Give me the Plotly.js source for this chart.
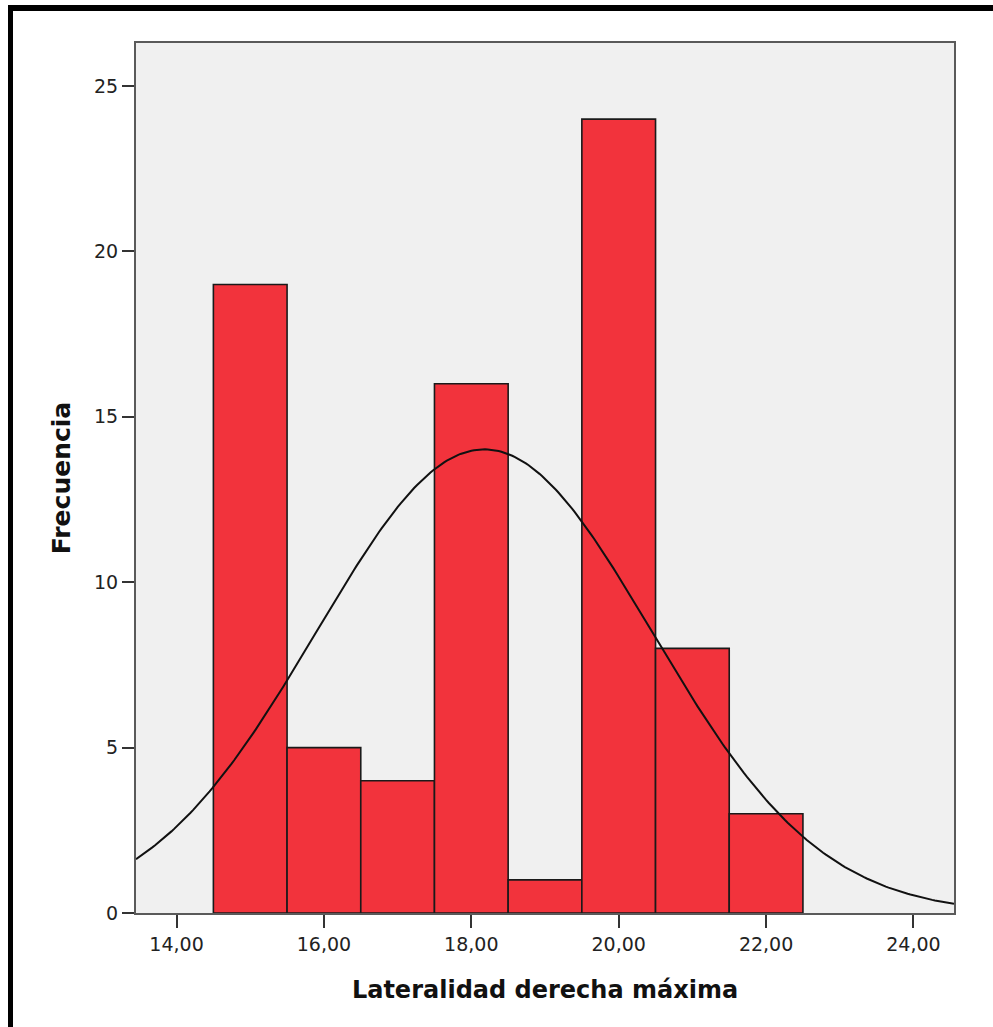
<!DOCTYPE html>
<html>
<head>
<meta charset="utf-8">
<script src="https://cdn.plot.ly/plotly-3.0.1.min.js"></script>
<style>
  html, body { margin: 0; padding: 0; background: #ffffff; }
  #wrap { position: relative; width: 993px; height: 1027px; overflow: hidden; }
  #chart { position: absolute; left: 0; top: 0; width: 993px; height: 1027px; }
  #frame { position: absolute; left: 8px; top: 5px; width: 1000px; height: 1100px;
           border-left: 5px solid #000; border-top: 6px solid #000; pointer-events: none; }
</style>
</head>
<body>
<div id="wrap">
  <div id="chart"></div>
  <div id="frame"></div>
</div>
<script>
// Histogram bins (centre of each 1-unit bin) and their frequencies
const binCenters = [15, 16, 17, 18, 19, 20, 21, 22];
const frequencies = [19, 5, 4, 16, 1, 24, 8, 3];
const binWidth = 1;

const xTickValues = [14, 16, 18, 20, 22, 24];
const xTickLabels = ['14,00', '16,00', '18,00', '20,00', '22,00', '24,00'];
const yTickValues = [0, 5, 10, 15, 20, 25];
const yTickLabels = ['0', '5', '10', '15', '20', '25'];

const xRange = [13.45, 24.55];
const yRange = [0, 26.3];

// Normal curve fitted to the binned data (mean and SD of the sample)
const n = frequencies.reduce((a, b) => a + b, 0);
const mean = binCenters.reduce((s, c, i) => s + c * frequencies[i], 0) / n;
const variance = binCenters.reduce((s, c, i) => s + frequencies[i] * (c - mean) ** 2, 0) / (n - 1);
const sd = Math.sqrt(variance);
const curveX = [];
const curveY = [];
const steps = 300;
for (let k = 0; k <= steps; k++) {
  const x = xRange[0] + (xRange[1] - xRange[0]) * k / steps;
  const z = (x - mean) / sd;
  curveX.push(x);
  curveY.push(n * binWidth / (sd * Math.sqrt(2 * Math.PI)) * Math.exp(-0.5 * z * z));
}

const bars = {
  type: 'bar',
  x: binCenters,
  y: frequencies,
  width: binWidth,
  marker: { color: '#f2333c', line: { color: '#1a1a1a', width: 1.6 } },
  hoverinfo: 'skip'
};

const curve = {
  type: 'scatter',
  mode: 'lines',
  x: curveX,
  y: curveY,
  line: { color: '#111111', width: 2 },
  hoverinfo: 'skip'
};

const fontFamily = 'DejaVu Sans, Verdana, sans-serif';

const layout = {
  width: 993,
  height: 1027,
  margin: { l: 136, r: 39, t: 43, b: 114 },
  paper_bgcolor: '#ffffff',
  plot_bgcolor: '#f0f0f0',
  showlegend: false,
  bargap: 0,
  font: { family: fontFamily, color: '#222222', size: 19 },
  xaxis: {
    range: xRange,
    tickmode: 'array',
    tickvals: xTickValues,
    ticktext: xTickLabels,
    ticks: 'outside',
    ticklen: 13,
    tickwidth: 2,
    tickcolor: '#333333',
    tickfont: { family: fontFamily, size: 19, color: '#222222' },
    showgrid: false,
    zeroline: false,
    showline: true,
    linecolor: '#5a5a5a',
    linewidth: 2,
    mirror: true,
    automargin: true,
    title: {
      text: 'Lateralidad derecha máxima',
      font: { family: fontFamily, size: 24, color: '#111111', weight: 'bold' },
      standoff: 27
    }
  },
  yaxis: {
    range: yRange,
    tickmode: 'array',
    tickvals: yTickValues,
    ticktext: yTickLabels,
    ticks: 'outside',
    ticklen: 12,
    tickwidth: 2,
    tickcolor: '#333333',
    tickfont: { family: fontFamily, size: 19, color: '#222222' },
    showgrid: false,
    zeroline: false,
    showline: true,
    linecolor: '#5a5a5a',
    linewidth: 2,
    mirror: true,
    automargin: true,
    title: {
      text: 'Frecuencia',
      font: { family: fontFamily, size: 25, color: '#111111', weight: 'bold' },
      standoff: 16
    }
  }
};

Plotly.newPlot('chart', [bars, curve], layout, { displayModeBar: false, staticPlot: true });
</script>
</body>
</html>
